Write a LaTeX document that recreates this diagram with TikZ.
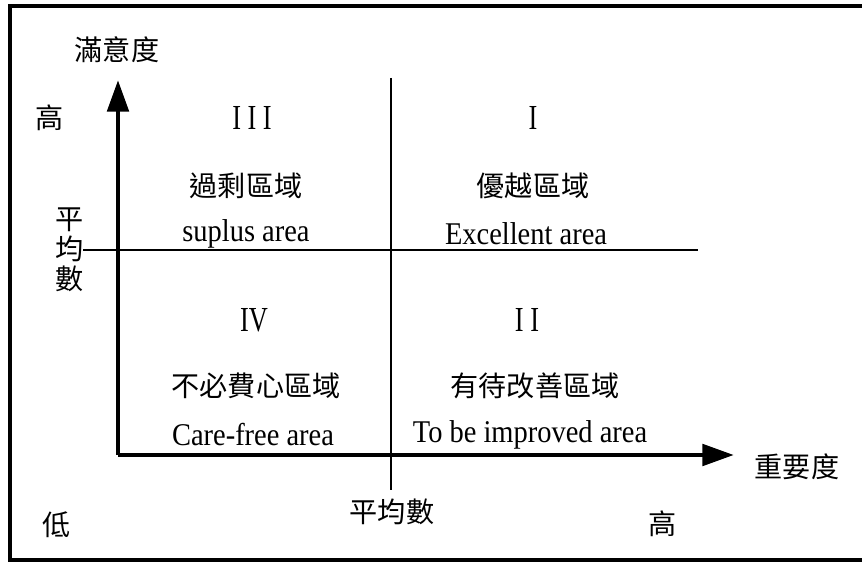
\documentclass[tikz,border=0pt]{standalone}
\usepackage{fontspec}
\setmainfont{Liberation Serif}
\newfontfamily\cjk{Noto Sans CJK TC}
\usetikzlibrary{arrows.meta}

\begin{document}
\begin{tikzpicture}[
       x=0.02cm, y=-0.02cm,
       txt/.style={inner sep=1pt, xscale=0.9, font=\fontsize{18}{21}\selectfont},
       roman/.style={inner sep=1pt, xscale=0.75, font=\fontsize{20}{24}\selectfont},
       zh/.style={inner sep=1pt, font=\fontsize{16}{19}\selectfont\cjk},
       axis/.style={line width=2.8pt, -{Triangle[length=18pt,width=12pt]}},
       thin/.style={line width=0.7pt}
   ]
   \useasboundingbox (0,0) rectangle (862,563);
   % frame (right side runs off the picture)
   \draw[line width=2pt] (880,6) -| (10,560) -- (880,560);

   \coordinate (O) at (118,455);
   \coordinate (ytop) at (118,80);
   \coordinate (xend) at (734,455);
   \coordinate (hl) at (83,250);
   \coordinate (hr) at (698,250);
   \coordinate (vt) at (391,78);
   \coordinate (vb) at (391,490);

   \draw[thin] (hl) -- (hr);
   \draw[thin] (vt) -- (vb);
   \draw[axis] (O) -- (ytop);
   \draw[axis] (O) -- (xend);

   % axis labels
   \node[zh] (sat) at (117,50) {滿意度};
   \node[zh] (imp) at (797,467) {重要度};
   \node[zh] (yhigh) at (50,118) {高};
   \node[zh, align=center, font=\fontsize{16}{17}\selectfont\cjk] (ymean) at (70,250) {平\\均\\數};
   \node[zh] (xmean) at (392,512) {平均數};
   \node[zh] (low) at (57,525) {低};
   \node[zh] (xhigh) at (663,524) {高};

   % quadrants
   \node[roman] (q3) at (252,118) {I I I};
   \node[zh] (q3zh) at (246,186) {過剩區域};
   \node[txt] (q3en) at (246,234) {suplus area};
   \node[roman] (q1) at (533,118) {I};
   \node[zh] (q1zh) at (533,186) {優越區域};
   \node[txt] (q1en) at (526,234) {Excellent area};
   \node[roman] (q4) at (254,320) {IV};
   \node[zh] (q4zh) at (256,386) {不必費心區域};
   \node[txt] (q4en) at (253,435) {Care-free area};
   \node[roman] (q2) at (527,320) {I I};
   \node[zh] (q2zh) at (535,386) {有待改善區域};
   \node[txt] (q2en) at (530,435) {To be improved area};
\end{tikzpicture}
\end{document}
